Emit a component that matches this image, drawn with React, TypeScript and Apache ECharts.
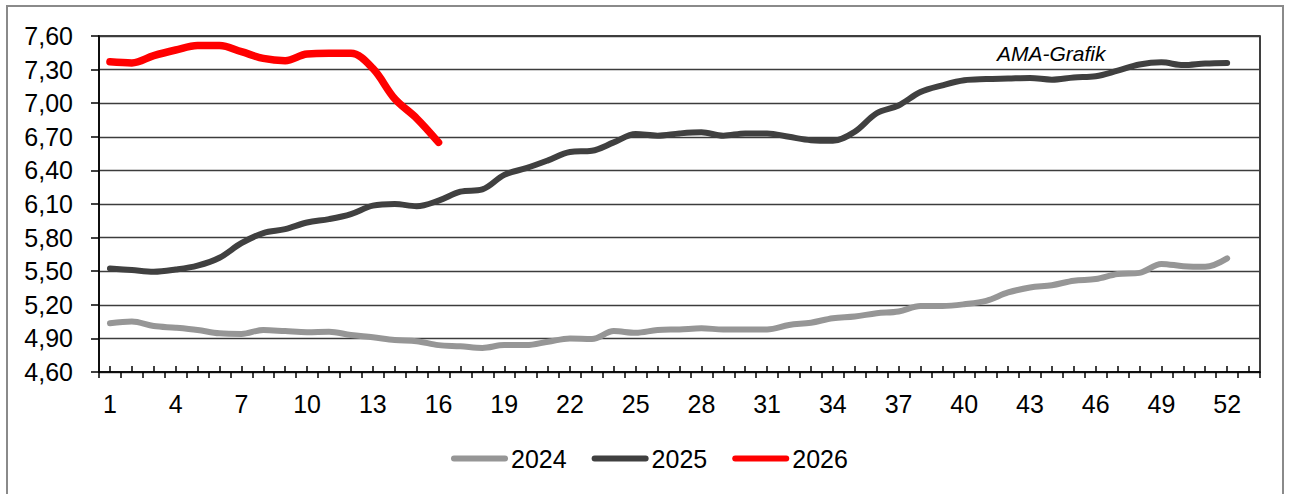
import React, { useEffect, useRef } from 'react';
import * as echarts from 'echarts';

const WEEKS: string[] = Array.from({ length: 53 }, (_, i) => String(i + 1));

const Y_TICKS = [4.6, 4.9, 5.2, 5.5, 5.8, 6.1, 6.4, 6.7, 7.0, 7.3, 7.6];

const S2024 = [
  5.035, 5.05, 5.01, 4.995, 4.975, 4.945, 4.94, 4.975, 4.965, 4.955,
  4.96, 4.93, 4.91, 4.885, 4.875, 4.84, 4.83, 4.815, 4.84, 4.84,
  4.87, 4.9, 4.895, 4.965, 4.95, 4.975, 4.98, 4.99, 4.98, 4.98,
  4.98, 5.02, 5.04, 5.08, 5.095, 5.125, 5.14, 5.19, 5.19, 5.205,
  5.235, 5.31, 5.355, 5.375, 5.415, 5.43, 5.475, 5.485, 5.565, 5.545, 5.54, 5.615,
];

const S2025 = [
  5.525, 5.51, 5.495, 5.515, 5.55, 5.62, 5.75, 5.84, 5.875, 5.935,
  5.965, 6.01, 6.085, 6.1, 6.08, 6.13, 6.21, 6.23, 6.36, 6.42,
  6.49, 6.565, 6.575, 6.65, 6.725, 6.71, 6.73, 6.74, 6.71, 6.73,
  6.73, 6.7, 6.67, 6.665, 6.745, 6.91, 6.98, 7.1, 7.16, 7.205,
  7.215, 7.22, 7.225, 7.21, 7.23, 7.24, 7.29, 7.345, 7.365, 7.34, 7.355, 7.36,
];

const S2026 = [
  7.37, 7.36, 7.425, 7.475, 7.515, 7.515, 7.46, 7.4, 7.38, 7.44,
  7.445, 7.445, 7.31, 7.04, 6.865, 6.65,
];

const SERIES_NAMES = ['2024', '2025', '2026'];
const SERIES_COLORS = ['#969696', '#404040', '#ff0000'];

const FONT = '"Liberation Sans", Arial, sans-serif';
const CAPSULE = 'path://M3,0 L54,0 A3,3 0 0 1 54,6 L3,6 A3,3 0 0 1 3,0 Z';

export default function App() {
  const ref = useRef<HTMLDivElement>(null);
  useEffect(() => {
    const chart = echarts.init(ref.current!, null, { renderer: 'svg' });
    const tickStyle = { color: '#000', width: 1.5 };
    chart.setOption({
      animation: false,
      backgroundColor: '#fff',
      textStyle: { fontFamily: FONT },
      grid: {
        left: 99,
        top: 36,
        right: 30,
        bottom: 122,
        show: true,
        borderColor: '#000',
        borderWidth: 1.5,
        backgroundColor: 'transparent',
      },
      xAxis: [
        {
          type: 'category',
          data: WEEKS,
          boundaryGap: true,
          position: 'bottom',
          axisLine: { show: true, lineStyle: tickStyle },
          axisTick: { show: true, interval: 0, length: 6, inside: false, lineStyle: tickStyle },
          axisLabel: { interval: 2, fontSize: 25, color: '#000', margin: 19, fontFamily: FONT },
          splitLine: { show: false },
        },
        {
          type: 'category',
          data: WEEKS,
          boundaryGap: true,
          position: 'bottom',
          axisLine: { show: false },
          axisTick: { show: true, interval: 0, alignWithLabel: true, inside: true, length: 6, lineStyle: tickStyle },
          axisLabel: { show: false },
          splitLine: { show: false },
        },
      ],
      yAxis: {
        type: 'value',
        min: 4.6,
        max: 7.6,
        axisLine: { show: true, lineStyle: tickStyle },
        axisTick: { show: true, length: 8, customValues: Y_TICKS, lineStyle: tickStyle },
        axisLabel: {
          customValues: Y_TICKS,
          formatter: (v: number) => v.toFixed(2).replace('.', ','),
          fontSize: 25,
          color: '#000',
          margin: 26,
          fontFamily: FONT,
        },
        splitLine: { show: true, lineStyle: { color: '#3c3c3c', width: 1.3 } },
      },
      legend: {
        data: SERIES_NAMES.map((n) => ({ name: n, icon: CAPSULE })),
        top: 446,
        left: 451,
        padding: 0,
        itemWidth: 57,
        itemHeight: 7,
        itemGap: 25,
        textStyle: { fontSize: 25, color: '#000', fontFamily: FONT, padding: [0, 0, 0, -2] },
      },
      graphic: [
        {
          type: 'rect',
          shape: { x: 7, y: 6, width: 1276, height: 500 },
          style: { fill: 'transparent', stroke: '#8a8a8a', lineWidth: 2 },
          silent: true,
          z: -10,
        },
        {
          type: 'text',
          left: 997,
          top: 43,
          style: { text: 'AMA-Grafik', font: 'italic 21px "Liberation Sans", Arial, sans-serif', fill: '#000' },
          silent: true,
        },
      ],
      series: [S2024, S2025, S2026].map((d, i) => ({
        name: SERIES_NAMES[i],
        type: 'line',
        data: d,
        smooth: 0.35,
        symbol: 'none',
        showSymbol: false,
        lineStyle: { color: SERIES_COLORS[i], width: i === 2 ? 7.5 : 6, cap: 'round', join: 'round' },
        itemStyle: { color: SERIES_COLORS[i] },
        z: 2 + i,
      })),
    });
    return () => chart.dispose();
  }, []);
  return <div ref={ref} style={{ position: 'absolute', left: 0, top: 0, width: 1290, height: 494 }} />;
}
